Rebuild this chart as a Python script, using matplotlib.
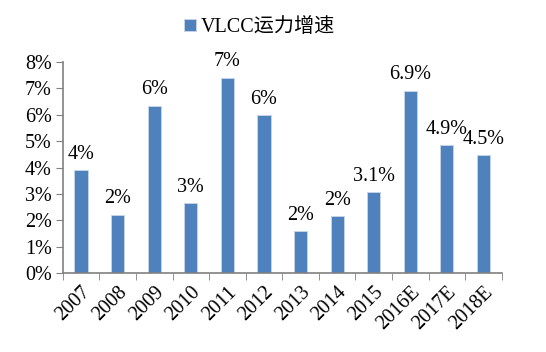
import matplotlib
matplotlib.use('Agg')
import matplotlib.pyplot as plt
import numpy as np

years = ['2007', '2008', '2009', '2010', '2011', '2012', '2013', '2014', '2015', '2016E', '2017E', '2018E']
growth = [3.9, 2.2, 6.35, 2.65, 7.4, 5.98, 1.59, 2.16, 3.07, 6.9, 4.85, 4.47]
labels = ['4%', '2%', '6%', '3%', '7%', '6%', '2%', '2%', '3.1%', '6.9%', '4.9%', '4.5%']

plt.rcParams['font.family'] = ['Liberation Serif', 'Noto Sans CJK SC']

fig = plt.figure(figsize=(5.46, 3.52), dpi=100)
ax = fig.add_axes([0.115, 0.224, 0.804, 0.6])

x = np.arange(len(years))
bars = ax.bar(x, growth, width=0.36, color='#4F81BD', edgecolor='#C9D6EA', linewidth=0.6,
              label='VLCC运力增速')
for xi, v, lab in zip(x, growth, labels):
    ax.text(xi, v + 0.25, lab, ha='center', va='bottom', fontsize=14.5)

ax.set_xlim(-0.5, len(years) - 0.5)
ax.set_ylim(0, 8)
ax.set_yticks(range(9))
ax.set_yticklabels([f'{i}%' for i in range(9)], fontsize=14.5)
ax.set_xticks(x)
ax.set_xticklabels(years, rotation=45, ha='right', rotation_mode='anchor', fontsize=14.5)
ax.set_xticks(np.arange(-0.5, len(years)), minor=True)
ax.tick_params(axis='x', which='major', length=0, pad=7)
ax.tick_params(axis='x', which='minor', length=5, color='#808080', direction='out')
ax.tick_params(axis='y', length=5, color='#808080', direction='out', pad=3)

for s in ['top', 'right']:
    ax.spines[s].set_visible(False)
for s in ['left', 'bottom']:
    ax.spines[s].set_color('#808080')
    ax.spines[s].set_linewidth(1.2)

fig.legend(handles=[bars], loc='upper center', bbox_to_anchor=(0.475, 1.0), frameon=False,
           fontsize=14.5, handlelength=0.6, handleheight=0.6, handletextpad=0.25)

fig.savefig('out.png', dpi=100)
